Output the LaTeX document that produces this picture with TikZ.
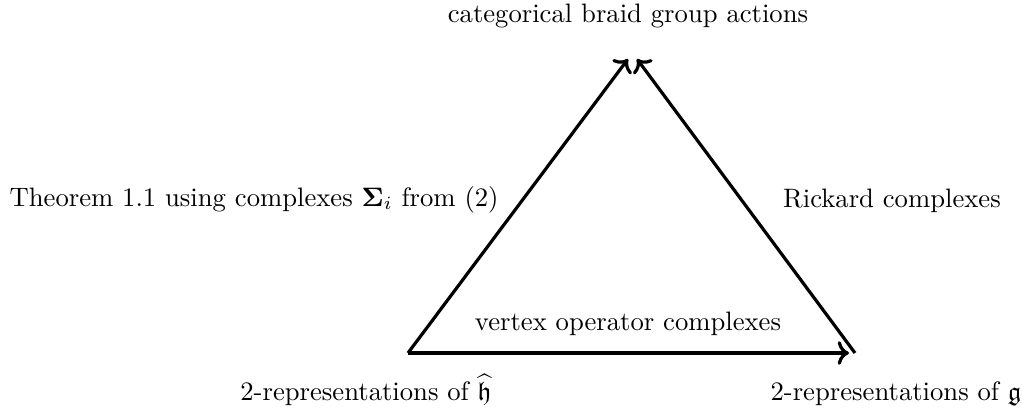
\documentclass[tikz,border=0pt]{standalone}
\usepackage{amsmath,amssymb,amsfonts}
\usepackage{tikz}
\usetikzlibrary{positioning, arrows.meta, calc}

\begin{document}
\begin{tikzpicture}[x=0.01319cm, y=-0.01319cm, auto, very thick]
    % Styles
    \tikzstyle{label} = [inner sep=0pt, anchor=base]
    \tikzstyle{arrow} = [very thick,->]

    % Frame
    \useasboundingbox (0,0) rectangle (1022,413);

    % Corners
    \coordinate (Left) at (408,353);
    \coordinate (Right) at (855,353);
    \coordinate (TopL) at (628,59);
    \coordinate (TopR) at (637,59);
    \coordinate (RightIn) at (849,353);

    % Vertex texts
    \node (Top) [label] at (628,22) {categorical braid group actions};
    \node (Hhat) [label] at (366,400) {2-representations of $\widehat{\mathfrak{h}}$};
    \node (Gfrak) [label] at (896,400) {2-representations of $\mathfrak{g}$};

    % Edge texts
    \node (Theorem) [label, anchor=base west] at (8,206) {Theorem 1.1 using complexes $\boldsymbol{\Sigma}_i$ from (2)};
    \node (Rickard) [label] at (892,207) {Rickard complexes};
    \node (Vertex) [label] at (628,330) {vertex operator complexes};

    % Arrows
    \draw [arrow] (Left) -- (TopL);
    \draw [arrow] (Right) -- (TopR);
    \draw [arrow] (Left) -- (RightIn);

\end{tikzpicture}
\end{document}
